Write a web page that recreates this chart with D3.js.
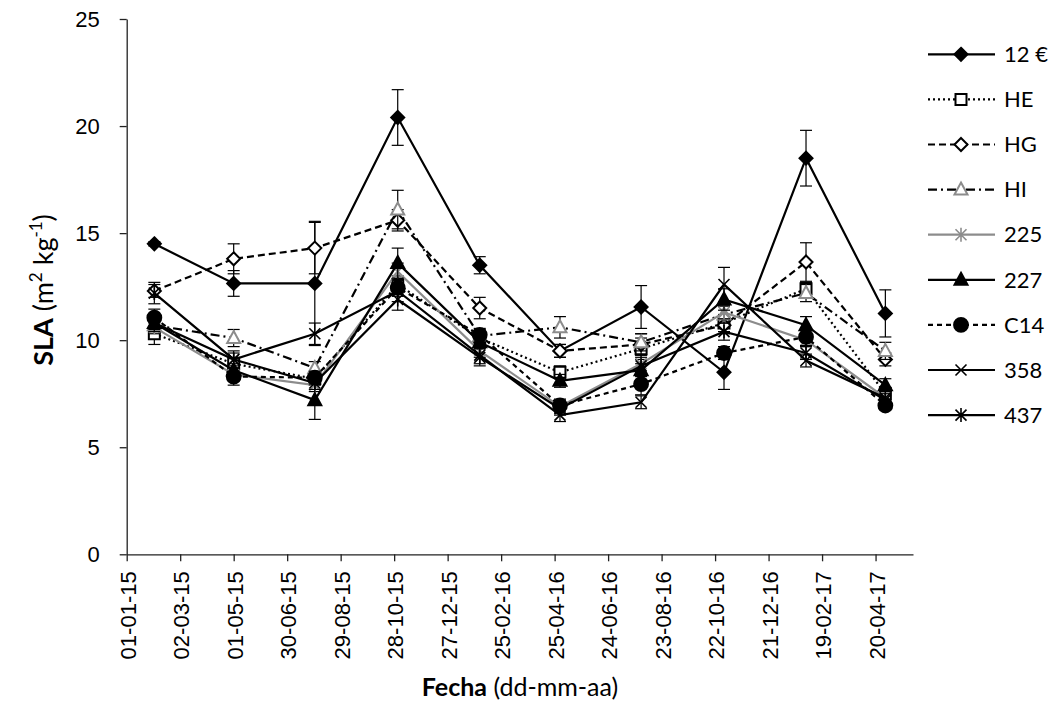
<!DOCTYPE html>
<html>
<head>
<meta charset="utf-8">
<script src="https://d3js.org/d3.v7.min.js"></script>
<style>
  body { margin: 0; background: #fff; }
  svg { font-family: Lato, "Open Sans", sans-serif; }
</style>
</head>
<body>
<svg id="chart" width="1051" height="719"></svg>
<script>
// --- DATA --------------------------------------------------------------------
const DATES = ['2015-02-01', '2015-05-01', '2015-07-31', '2015-11-01', '2016-02-01',
               '2016-05-01', '2016-07-31', '2016-11-01', '2017-02-01', '2017-05-01'];

const X_TICKS = ['01-01-15', '02-03-15', '01-05-15', '30-06-15', '29-08-15', '28-10-15',
                 '27-12-15', '25-02-16', '25-04-16', '24-06-16', '23-08-16', '22-10-16',
                 '21-12-16', '19-02-17', '20-04-17'];
const Y_TICKS = [0, 5, 10, 15, 20, 25];

const SERIES_NAMES = ['12 €', 'HE', 'HG', 'HI', '225', '227', 'C14', '358', '437'];

const V_12E = [14.5, 12.65, 12.65, 20.4, 13.5, 9.5, 11.55, 8.5, 18.5, 11.25];
const V_HE  = [10.3, 8.9, 8.2, 12.6, 10.1, 8.5, 9.6, 10.8, 12.4, 7.5];
const V_HG  = [12.3, 13.8, 14.3, 15.6, 11.5, 9.5, 9.8, 10.7, 13.65, 9.1];
const V_HI  = [10.7, 10.1, 8.7, 16.1, 10.2, 10.6, 9.9, 11.2, 12.2, 9.5];
const V_225 = [10.6, 8.4, 7.9, 13.2, 9.5, 6.9, 8.9, 11.3, 10.0, 7.3];
const V_227 = [10.8, 8.6, 7.2, 13.6, 9.9, 8.1, 8.6, 11.9, 10.7, 7.9];
const V_C14 = [11.05, 8.3, 8.25, 12.45, 10.25, 6.95, 7.95, 9.4, 10.15, 6.95];
const V_358 = [10.8, 9.1, 10.3, 12.3, 9.3, 6.5, 7.1, 12.6, 9.05, 7.3];
const V_437 = [12.2, 9.1, 8.0, 11.9, 9.2, 6.8, 8.8, 10.4, 9.4, 7.2];

// standard errors (±)
const E_12E = [0.1, 0.6, 2.9, 1.3, 0.4, 0.3, 1.0, 0.8, 1.3, 1.1];
const E_HE  = [0.5, 0.3, 0.3, 0.4, 0.3, 0.3, 0.5, 0.4, 0.3, 0.3];
const E_HG  = [0.3, 0.7, 1.2, 0.5, 0.5, 0.3, 0.5, 0.4, 0.9, 0.3];
const E_HI  = [0.3, 0.4, 0.3, 0.9, 0.3, 0.5, 0.4, 0.4, 0.4, 0.4];
const E_225 = [0.3, 0.3, 0.3, 0.4, 0.3, 0.3, 0.4, 0.3, 0.3, 0.3];
const E_227 = [0.4, 0.3, 0.9, 0.7, 0.3, 0.3, 0.3, 0.5, 0.4, 0.3];
const E_C14 = [0.4, 0.4, 0.3, 0.4, 0.3, 0.3, 0.5, 0.3, 0.4, 0.2];
const E_358 = [0.3, 0.3, 0.5, 0.5, 0.4, 0.3, 0.3, 0.8, 0.3, 0.3];
const E_437 = [0.5, 0.4, 0.3, 0.5, 0.4, 0.3, 0.4, 0.4, 0.3, 0.3];

const VALUES = [V_12E, V_HE, V_HG, V_HI, V_225, V_227, V_C14, V_358, V_437];
const ERRORS = [E_12E, E_HE, E_HG, E_HI, E_225, E_227, E_C14, E_358, E_437];

// --- STYLE -------------------------------------------------------------------
const BLACK = '#000';
const GREY  = '#8c8c8c';

const STYLE = [
  { marker: 'diamond',  fill: BLACK, stroke: BLACK, line: BLACK, dash: null },
  { marker: 'square',   fill: '#fff', stroke: BLACK, line: BLACK, dash: '2,3' },
  { marker: 'diamond',  fill: '#fff', stroke: BLACK, line: BLACK, dash: '7,4' },
  { marker: 'triangle', fill: '#fff', stroke: GREY,  line: BLACK, dash: '9,4,2,4' },
  { marker: 'star',     fill: 'none', stroke: GREY,  line: GREY,  dash: null },
  { marker: 'triangle', fill: BLACK, stroke: BLACK, line: BLACK, dash: null },
  { marker: 'circle',   fill: BLACK, stroke: BLACK, line: BLACK, dash: '5,4' },
  { marker: 'cross',    fill: 'none', stroke: BLACK, line: BLACK, dash: null },
  { marker: 'star',     fill: 'none', stroke: BLACK, line: BLACK, dash: null },
];

const M = { left: 126.7, right: 913, top: 19, bottom: 554.3 };
const FONT_TICK = 22;
const FONT_TITLE = 25;

const parse = d3.timeParse('%Y-%m-%d');
const parseTick = d3.timeParse('%d-%m-%y');
const fmtTick = d3.timeFormat('%d-%m-%y');

const x = d3.scaleTime()
  .domain([parse('2015-01-01'), parse('2017-06-01')])
  .range([M.left, M.right]);
const y = d3.scaleLinear().domain([0, 25]).range([M.bottom, M.top]);

const svg = d3.select('#chart');

// --- AXES --------------------------------------------------------------------
const xAxis = svg.append('g')
  .attr('transform', `translate(0,${M.bottom})`)
  .call(d3.axisBottom(x).tickValues(X_TICKS.map(parseTick)).tickFormat(fmtTick)
    .tickSizeInner(7).tickSizeOuter(0).tickPadding(6));
xAxis.select('.domain').attr('stroke', '#222').attr('stroke-width', 1.3);
xAxis.selectAll('.tick line').attr('stroke', '#222').attr('stroke-width', 1.3);
xAxis.selectAll('.tick text')
  .attr('font-size', FONT_TICK).attr('fill', BLACK)
  .attr('text-anchor', 'end')
  .attr('transform', 'rotate(-90)')
  .attr('x', -17).attr('y', 1).attr('dy', '0.35em');

const yAxis = svg.append('g')
  .attr('transform', `translate(${M.left},0)`)
  .call(d3.axisLeft(y).tickValues(Y_TICKS).tickSizeInner(7).tickSizeOuter(0).tickPadding(20));
yAxis.select('.domain').attr('stroke', '#222').attr('stroke-width', 1.3);
yAxis.selectAll('.tick line').attr('stroke', '#222').attr('stroke-width', 1.3);
yAxis.selectAll('.tick text').attr('font-size', FONT_TICK).attr('fill', BLACK);

// axis titles
const yt = svg.append('text')
  .attr('transform', 'translate(53,290) rotate(-90)')
  .attr('text-anchor', 'middle').attr('font-size', 27);
yt.append('tspan').attr('font-weight', 700).text('SLA');
yt.append('tspan').text(' (m');
yt.append('tspan').attr('font-size', 17).attr('dy', -11).text('2');
yt.append('tspan').attr('dy', 11).text(' kg');
yt.append('tspan').attr('font-size', 17).attr('dy', -11).text('-1');
yt.append('tspan').attr('dy', 11).text(')');

const xt = svg.append('text')
  .attr('x', 520).attr('y', 696)
  .attr('text-anchor', 'middle').attr('font-size', FONT_TITLE);
xt.append('tspan').attr('font-weight', 700).text('Fecha');
xt.append('tspan').text(' (dd-mm-aa)');

// --- MARKERS -----------------------------------------------------------------
function markerPath(type) {
  switch (type) {
    case 'diamond':  return 'M0,-6.5L6.5,0L0,6.5L-6.5,0Z';
    case 'square':   return 'M-5.5,-5.5H5.5V5.5H-5.5Z';
    case 'triangle': return 'M0,-7L6.5,5L-6.5,5Z';
    case 'circle':   return d3.symbol(d3.symbolCircle, 150)();
    case 'cross':    return 'M-5.5,-5.5L5.5,5.5M5.5,-5.5L-5.5,5.5';
    case 'star':     return 'M-5.5,-5.5L5.5,5.5M5.5,-5.5L-5.5,5.5M0,-7V7';
  }
}

function drawMarker(g, st) {
  const isLine = st.marker === 'cross' || st.marker === 'star';
  g.append('path')
    .attr('d', markerPath(st.marker))
    .attr('fill', isLine ? 'none' : st.fill)
    .attr('stroke', st.stroke)
    .attr('stroke-width', isLine ? 1.6 : 2);
}

// --- SERIES ------------------------------------------------------------------
const line = d3.line().x(d => x(d.date)).y(d => y(d.v));
const plot = svg.append('g');

SERIES_NAMES.forEach((name, i) => {
  const st = STYLE[i];
  const pts = DATES.map((d, j) => ({ date: parse(d), v: VALUES[i][j], e: ERRORS[i][j] }));
  const g = plot.append('g');

  // error bars
  const eb = g.selectAll('g.eb').data(pts).join('g').attr('class', 'eb')
    .attr('stroke', BLACK).attr('stroke-width', 1.2);
  eb.append('line')
    .attr('x1', d => x(d.date)).attr('x2', d => x(d.date))
    .attr('y1', d => y(d.v - d.e)).attr('y2', d => y(d.v + d.e));
  [-1, 1].forEach(s => eb.append('line')
    .attr('x1', d => x(d.date) - 6).attr('x2', d => x(d.date) + 6)
    .attr('y1', d => y(d.v + s * d.e)).attr('y2', d => y(d.v + s * d.e)));

  g.append('path').datum(pts)
    .attr('d', line)
    .attr('fill', 'none')
    .attr('stroke', st.line)
    .attr('stroke-width', 2.2)
    .attr('stroke-dasharray', st.dash);

  g.selectAll('g.mk').data(pts).join('g').attr('class', 'mk')
    .attr('transform', d => `translate(${x(d.date)},${y(d.v)})`)
    .each(function () { drawMarker(d3.select(this), st); });
});

// --- LEGEND ------------------------------------------------------------------
const legend = svg.append('g');
SERIES_NAMES.forEach((name, i) => {
  const st = STYLE[i];
  const ly = 54.3 + i * 45.1;
  const g = legend.append('g').attr('transform', `translate(0,${ly})`);
  g.append('line')
    .attr('x1', 928).attr('x2', 995)
    .attr('stroke', st.line).attr('stroke-width', 2.2)
    .attr('stroke-dasharray', st.dash);
  const mk = g.append('g').attr('transform', 'translate(961,0)');
  drawMarker(mk, st);
  g.append('text')
    .attr('x', 1004).attr('dy', '0.35em')
    .attr('font-size', FONT_TICK).attr('fill', BLACK)
    .text(name);
});
</script>
</body>
</html>
